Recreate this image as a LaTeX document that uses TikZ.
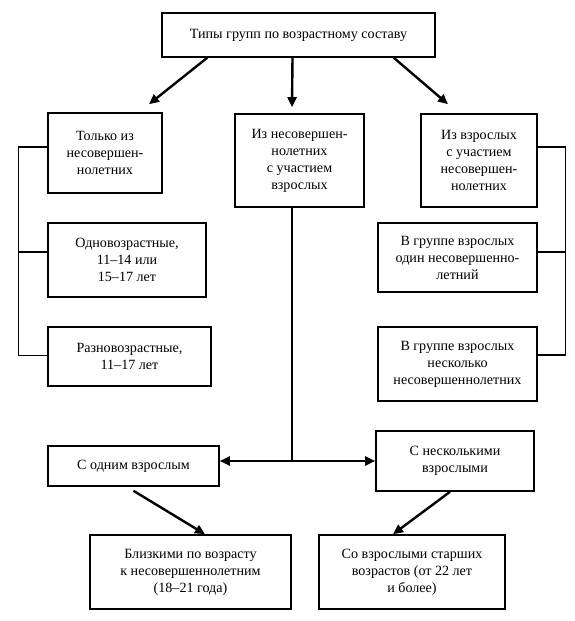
\documentclass[tikz,border=0pt]{standalone}
\usepackage{fontspec}
\setmainfont{Liberation Serif}
\usetikzlibrary{arrows.meta}

\begin{document}
\begin{tikzpicture}[x=1pt, y=-1pt, inner sep=1pt]
	\tikzstyle{every node}=[align=center, font=\fontsize{14.1}{17}\selectfont]
	\tikzstyle{box}=[draw, line width=1.6pt]
	\tikzstyle{arr}=[line width=2.4pt, -{Triangle[length=10pt, width=9pt]}]
	\tikzstyle{link}=[line width=1.2pt]
		\useasboundingbox (0, 0) rectangle (575, 621);

		\node[box, minimum width=273pt, minimum height=44pt] (types) at (298.5, 35) {Типы групп по возрастному составу};

		\node[box, minimum width=114pt, minimum height=80pt] (minors) at (105, 153) {Только из\\несовершен-\\нолетних};
		\node[box, minimum width=129pt, minimum height=93pt] (mixed) at (299.5, 160.5) {Из несовершен-\\нолетних\\с участием\\взрослых};
		\node[box, minimum width=116pt, minimum height=93pt] (adults) at (479, 160.5) {Из взрослых\\с участием\\несовершен-\\нолетних};

		\node[box, minimum width=158pt, minimum height=74pt] (sameage) at (127, 260) {Одновозрастные,\\11–14 или\\15–17 лет};
		\node[box, minimum width=163pt, minimum height=59pt] (diffage) at (129.5, 356.5) {Разновозрастные,\\11–17 лет};
		\node[box, minimum width=159pt, minimum height=69pt] (oneminor) at (457.5, 257.5) {В группе взрослых\\один несовершенно-\\летний};
		\node[box, minimum width=159pt, minimum height=74pt] (manyminors) at (457.5, 364) {В группе взрослых\\несколько\\несовершеннолетних};

		\node[box, minimum width=171pt, minimum height=40pt] (oneadult) at (133.5, 466) {С одним взрослым};
		\node[box, minimum width=158pt, minimum height=60pt] (manyadults) at (455, 461) {С несколькими\\взрослыми};

		\node[box, minimum width=201pt, minimum height=74pt] (peers) at (190.5, 572) {Близкими по возрасту\\к несовершеннолетним\\(18–21 года)};
		\node[box, minimum width=186pt, minimum height=74pt] (elders) at (412, 572) {Со взрослыми старших\\возрастов (от 22 лет\\и более)};

		\coordinate (fork) at (292, 461);

		\draw[arr] ([xshift=46pt]types.south west) to ([xshift=44pt, yshift=8pt]minors.north);
		\draw[arr] ([xshift=-6pt]types.south) to ([xshift=-7.5pt, yshift=6pt]mixed.north);
		\draw[arr] ([xshift=-42pt]types.south east) to ([xshift=-31pt, yshift=9pt]adults.north);

		\draw[link] ([yshift=6pt]minors.west) -| ([xshift=-29pt, yshift=1pt]diffage.west) -- ([yshift=1pt]diffage.west);
		\draw[link] ([yshift=8pt]sameage.west) -- ++(-29, 0);
		\draw[link] ([yshift=13.5pt]adults.east) -| ([xshift=28pt, yshift=9pt]manyminors.east) -- ([yshift=9pt]manyminors.east);
		\draw[link] ([yshift=5.5pt]oneminor.east) -- ++(28, 0);

		\draw[link] ([xshift=-7.5pt]mixed.south) -- (fork);
		\draw[line width=2pt, {Triangle[length=10pt, width=9pt]}-{Triangle[length=10pt, width=9pt]}] ([yshift=5pt]oneadult.east) -- (manyadults.west);

		\draw[arr] ([yshift=-4pt]oneadult.south) to ([xshift=14.5pt]peers.north);
		\draw[arr] ([xshift=-5pt]manyadults.south) to ([xshift=-19pt]elders.north);
	\end{tikzpicture}
\end{document}
